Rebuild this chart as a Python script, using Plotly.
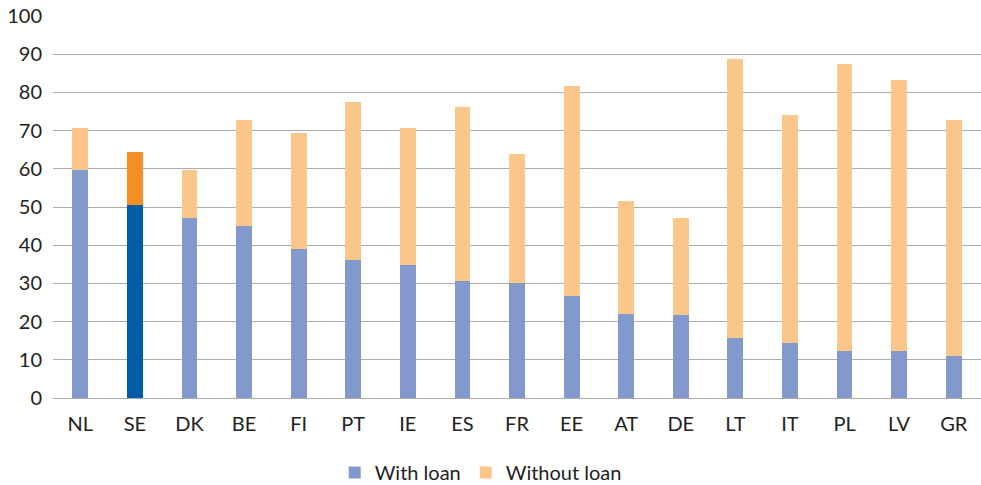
import plotly.graph_objects as go

countries = ["NL", "SE", "DK", "BE", "FI", "PT", "IE", "ES", "FR", "EE", "AT", "DE", "LT", "IT", "PL", "LV", "GR"]
with_loan = [59.8, 50.4, 47.2, 45.1, 39.1, 36.2, 34.7, 30.5, 30.0, 26.6, 22.1, 21.6, 15.8, 14.5, 12.4, 12.4, 11.1]
total = [70.6, 64.3, 59.6, 72.7, 69.3, 77.6, 70.6, 76.1, 63.8, 81.8, 51.7, 47.0, 88.7, 74.0, 87.4, 83.2, 72.7]
without_loan = [round(t - w, 1) for t, w in zip(total, with_loan)]

highlight = "SE"
c_with, c_with_hl = "#8398cc", "#005ba8"
c_without, c_without_hl = "#fbc689", "#f68e21"

font_family = "Lato, 'Open Sans', sans-serif"

fig = go.Figure()
fig.add_trace(go.Bar(
    x=countries, y=with_loan, name="With loan",
    marker=dict(color=[c_with_hl if c == highlight else c_with for c in countries], line_width=0),
))
fig.add_trace(go.Bar(
    x=countries, y=without_loan, name="Without loan",
    marker=dict(color=[c_without_hl if c == highlight else c_without for c in countries], line_width=0),
))

fig.update_layout(
    barmode="stack",
    bargap=0.71,
    width=981, height=485,
    margin=dict(l=53, r=0, t=16, b=87, autoexpand=False),
    paper_bgcolor="white", plot_bgcolor="white",
    font=dict(family=font_family, size=20, color="#222222"),
    showlegend=True,
    legend=dict(orientation="h", x=0.49, xanchor="center", xref="container",
                y=0.026, yanchor="middle", yref="container",
                font=dict(size=20), itemwidth=30, traceorder="normal"),
    xaxis=dict(showgrid=False, ticks="", tickfont=dict(size=20), showline=False,
               ticklabelstandoff=12),
    yaxis=dict(range=[0, 100], dtick=10, showgrid=True, gridcolor="#ababab", gridwidth=1.3,
               zeroline=True, zerolinecolor="#ababab", zerolinewidth=1.3,
               tickfont=dict(size=20), ticklabelstandoff=10, ticks=""),
)

fig.write_html("out.html")
